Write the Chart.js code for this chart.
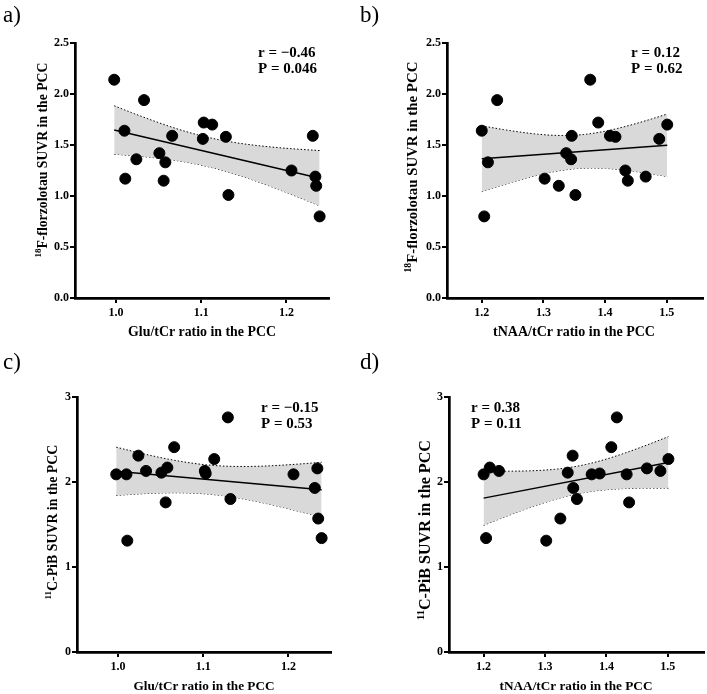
<!DOCTYPE html>
<html>
<head>
<meta charset="utf-8">
<script src="https://cdn.jsdelivr.net/npm/chart.js@4/dist/chart.umd.min.js"></script>
<style>
body { margin: 0; background: #fff; }
#wrap { position: relative; width: 707px; height: 694px; }
canvas { position: absolute; }
</style>
</head>
<body>
<div id="wrap">
  <canvas id="pa" width="353" height="347" style="left:0;top:0"></canvas>
  <canvas id="pb" width="354" height="347" style="left:353px;top:0"></canvas>
  <canvas id="pc" width="353" height="347" style="left:0;top:347px"></canvas>
  <canvas id="pd" width="354" height="347" style="left:353px;top:347px"></canvas>
</div>
<script>
'use strict';

// one entry per subject (19)
var gluRatio = [0.998, 1.010, 1.011, 1.024, 1.033, 1.051, 1.058, 1.056, 1.066, 1.102,
                1.103, 1.113, 1.129, 1.132, 1.206, 1.231, 1.234, 1.235, 1.239];
var naaRatio = [1.376, 1.200, 1.302, 1.345, 1.225, 1.337, 1.210, 1.437, 1.408, 1.488,
                1.389, 1.501, 1.417, 1.352, 1.433, 1.346, 1.466, 1.325, 1.204];
var tauSuvr  = [2.14, 1.64, 1.17, 1.36, 1.94, 1.42, 1.33, 1.15, 1.59, 1.56,
                1.72, 1.70, 1.58, 1.01, 1.25, 1.59, 1.19, 1.10, 0.80];
var pibSuvr  = [2.09, 2.09, 1.31, 2.31, 2.13, 2.11, 2.17, 1.76, 2.41, 2.13,
                2.10, 2.27, 2.76, 1.80, 2.09, 1.93, 2.16, 1.57, 1.34];

var gluTicks = [1.0, 1.1, 1.2];
var naaTicks = [1.2, 1.3, 1.4, 1.5];
var tauTicks = [0, 0.5, 1.0, 1.5, 2.0, 2.5];
var pibTicks = [0, 1, 2, 3];

var statsA = ['r = \u22120.46', 'P = 0.046'];
var statsB = ['r = 0.12', 'P = 0.62'];
var statsC = ['r = \u22120.15', 'P = 0.53'];
var statsD = ['r = 0.38', 'P = 0.11'];

var T_975_17 = 2.110; // t value for the 95% band, n - 2 = 17

var SERIF = '"Liberation Serif", "Times New Roman", serif';

function fitLine(xs, ys) {
    var n = xs.length, mx = 0, my = 0, sxx = 0, sxy = 0, sse = 0;
    for (var i = 0; i < n; i++) { mx += xs[i]; my += ys[i]; }
    mx /= n; my /= n;
    for (var i = 0; i < n; i++) {
        sxx += (xs[i] - mx) * (xs[i] - mx);
        sxy += (xs[i] - mx) * (ys[i] - my);
    }
    var b = sxy / sxx, a = my - b * mx;
    for (var i = 0; i < n; i++) {
        var e = ys[i] - a - b * xs[i];
        sse += e * e;
    }
    var s = Math.sqrt(sse / (n - 2));
    var lo = Math.min.apply(null, xs), hi = Math.max.apply(null, xs);
    var line = [], upper = [], lower = [];
    for (var k = 0; k <= 60; k++) {
        var x = lo + (hi - lo) * k / 60;
        var yh = a + b * x;
        var half = T_975_17 * s * Math.sqrt(1 / n + (x - mx) * (x - mx) / sxx);
        upper.push({x: x, y: yh + half});
        lower.push({x: x, y: yh - half});
    }
    line.push({x: lo, y: a + b * lo}, {x: hi, y: a + b * hi});
    return {line: line, upper: upper, lower: lower};
}

function fitFont(ctx, text, target, weight) {
    ctx.font = weight + ' 20px ' + SERIF;
    return 20 * target / ctx.measureText(text).width;
}

var textPlugin = {
    id: 'panelText',
    afterDraw: function (chart) {
        var p = chart.options.plugins.panelText;
        var ctx = chart.ctx;
        ctx.save();
        ctx.fillStyle = '#000';

        // panel letter
        ctx.font = 'normal 23px ' + SERIF;
        ctx.textAlign = 'left';
        ctx.textBaseline = 'alphabetic';
        ctx.fillText(p.letter, p.letterX, 22);

        // r and P
        ctx.font = 'bold 15px ' + SERIF;
        ctx.fillText(p.stats[0], p.statX, p.statY);
        ctx.fillText(p.stats[1], p.statX, p.statY + 16);

        // x title
        var fx = fitFont(ctx, p.xTitle, p.xTitleW, 'bold');
        ctx.font = 'bold ' + fx + 'px ' + SERIF;
        ctx.textAlign = 'center';
        ctx.textBaseline = 'middle';
        ctx.fillText(p.xTitle, p.xTitleX, p.xTitleY);

        // y title with superscript isotope number
        ctx.font = 'bold 20px ' + SERIF;
        var mainW = ctx.measureText(p.yTitle).width;
        ctx.font = 'bold 13px ' + SERIF;
        var supW = ctx.measureText(p.ySup).width;
        var f = 20 * p.yTitleW / (mainW + supW);
        ctx.translate(p.yTitleX, p.yTitleY);
        ctx.rotate(-Math.PI / 2);
        ctx.textAlign = 'left';
        ctx.textBaseline = 'middle';
        var total = (mainW + supW) * f / 20;
        ctx.font = 'bold ' + (f * 0.65) + 'px ' + SERIF;
        ctx.fillText(p.ySup, -total / 2, -f * 0.32);
        ctx.font = 'bold ' + f + 'px ' + SERIF;
        ctx.fillText(p.yTitle, -total / 2 + supW * f / 20, 0);
        ctx.restore();
    }
};

function makePanel(id, xs, ys, xMin, xMax, xTicks, yMax, yTicks, yDigits, area, text) {
    var canvas = document.getElementById(id);
    var W = canvas.width, H = canvas.height;
    var fit = fitLine(xs, ys);
    var pts = xs.map(function (x, i) { return {x: x, y: ys[i]}; });
    var tickFont = {family: SERIF, size: 12, weight: 'bold'};

    return new Chart(canvas, {
        type: 'scatter',
        data: {
            datasets: [{
                data: pts,
                backgroundColor: '#000',
                borderColor: '#000',
                pointRadius: 5.5,
                pointHoverRadius: 5.5,
                order: 0
            }, {
                data: fit.line,
                showLine: true,
                borderColor: '#000',
                borderWidth: 1.5,
                pointRadius: 0,
                order: 1
            }, {
                data: fit.upper,
                showLine: true,
                borderColor: '#000',
                borderWidth: 1,
                borderDash: [1.5, 2],
                pointRadius: 0,
                fill: '+1',
                backgroundColor: '#d9d9d9',
                order: 2
            }, {
                data: fit.lower,
                showLine: true,
                borderColor: '#000',
                borderWidth: 1,
                borderDash: [1.5, 2],
                pointRadius: 0,
                order: 3
            }]
        },
        options: {
            responsive: false,
            animation: false,
            devicePixelRatio: 1,
            layout: {
                autoPadding: false,
                padding: {left: 0, top: area.top, right: W - area.right, bottom: 0}
            },
            plugins: {
                legend: {display: false},
                tooltip: {enabled: false},
                panelText: text
            },
            scales: {
                x: {
                    type: 'linear',
                    min: xMin,
                    max: xMax,
                    afterBuildTicks: function (s) { s.ticks = xTicks.map(function (v) { return {value: v}; }); },
                    afterFit: function (s) { s.height = H - area.bottom; },
                    ticks: {
                        font: tickFont, color: '#000', padding: 3, maxRotation: 0, autoSkip: false,
                        callback: function (v) { return v.toFixed(1); }
                    },
                    grid: {drawOnChartArea: false, drawTicks: true, tickLength: 5, color: '#000', lineWidth: 2},
                    border: {color: '#000', width: 2.7}
                },
                y: {
                    type: 'linear',
                    min: 0,
                    max: yMax,
                    afterBuildTicks: function (s) { s.ticks = yTicks.map(function (v) { return {value: v}; }); },
                    afterFit: function (s) { s.width = area.left; },
                    ticks: {
                        font: tickFont, color: '#000', padding: 1, autoSkip: false,
                        callback: function (v) { return v.toFixed(yDigits); }
                    },
                    grid: {drawOnChartArea: false, drawTicks: true, tickLength: 5, color: '#000', lineWidth: 2},
                    border: {color: '#000', width: 2.7}
                }
            }
        },
        plugins: [textPlugin]
    });
}

makePanel('pa', gluRatio, tauSuvr, 0.952, 1.25, gluTicks, 2.5, tauTicks, 1,
    {left: 75, top: 43, right: 329, bottom: 298},
    {letter: 'a)', letterX: 3, stats: statsA, statX: 258, statY: 57,
     xTitle: 'Glu/tCr ratio in the PCC', xTitleX: 202, xTitleY: 332, xTitleW: 148,
     ySup: '18', yTitle: 'F-florzolotau SUVR in the PCC', yTitleX: 43, yTitleY: 160, yTitleW: 195});

makePanel('pb', naaRatio, tauSuvr, 1.1436, 1.559, naaTicks, 2.5, tauTicks, 1,
    {left: 94, top: 43, right: 350, bottom: 298},
    {letter: 'b)', letterX: 7, stats: statsB, statX: 278, statY: 57,
     xTitle: 'tNAA/tCr ratio in the PCC', xTitleX: 221, xTitleY: 332, xTitleW: 162,
     ySup: '18', yTitle: 'F-florzolotau SUVR in the PCC', yTitleX: 60, yTitleY: 167, yTitleW: 211});

makePanel('pc', gluRatio, pibSuvr, 0.952, 1.25, gluTicks, 3, pibTicks, 0,
    {left: 77, top: 50, right: 331, bottom: 305},
    {letter: 'c)', letterX: 3, stats: statsC, statX: 261, statY: 65,
     xTitle: 'Glu/tCr ratio in the PCC', xTitleX: 204, xTitleY: 340, xTitleW: 141,
     ySup: '11', yTitle: 'C-PiB SUVR in the PCC', yTitleX: 53, yTitleY: 175, yTitleW: 155});

makePanel('pd', naaRatio, pibSuvr, 1.1436, 1.559, naaTicks, 3, pibTicks, 0,
    {left: 96, top: 50, right: 351, bottom: 305},
    {letter: 'd)', letterX: 7, stats: statsD, statX: 118, statY: 65,
     xTitle: 'tNAA/tCr ratio in the PCC', xTitleX: 223, xTitleY: 340, xTitleW: 153,
     ySup: '11', yTitle: 'C-PiB SUVR in the PCC', yTitleX: 73, yTitleY: 183, yTitleW: 180});
</script>
</body>
</html>
